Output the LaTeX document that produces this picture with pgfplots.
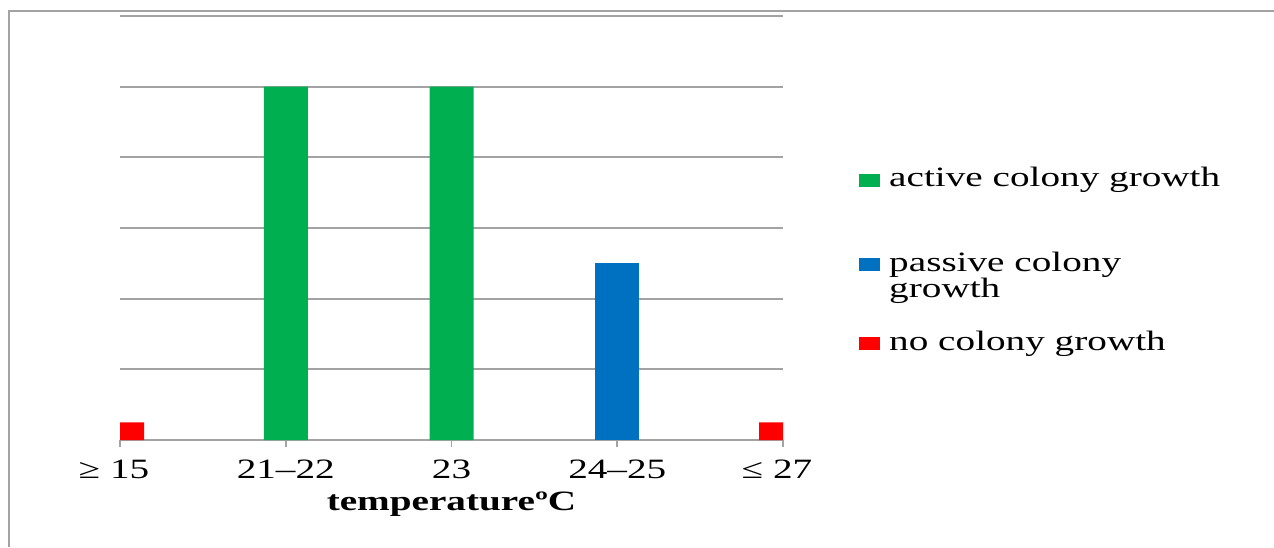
\documentclass[border=0pt]{standalone}
\usepackage{fontspec}
\setmainfont{Liberation Serif}[FakeStretch=1.4]
\usepackage{pgfplots}
\pgfplotsset{compat=1.18}
\definecolor{cgreen}{HTML}{00B050}
\definecolor{cblue}{HTML}{0070C0}
\definecolor{cred}{HTML}{FF0000}
\definecolor{cgrid}{HTML}{A3A3A3}
\newcommand{\lf}{\fontsize{21}{20}\selectfont}
\pgfplotsset{sqleg/.style={legend image code/.code={\fill[##1, draw=none] (0pt,0pt) rectangle (15.75pt,9.75pt);}}}
\begin{document}
\begin{tikzpicture}
\useasboundingbox (0pt,0pt) rectangle (955.5pt,410.25pt);
\draw[cgrid, line width=1.5pt] (6.75pt,0pt) -- (6.75pt,402pt) -- (955.5pt,402pt);
\begin{axis}[
  at={(90pt,80.25pt)}, anchor=south west,
  scale only axis, width=497.25pt, height=318pt,
  ybar, bar width=33pt,
  xmin=0, xmax=4, ymin=0, ymax=6,
  xtick={0,1,2,3,4},
  xticklabels={≥ 15\kern9pt, 21–22, 23, 24–25, ≤ 27\kern9pt},
  ytick={0,1,2,3,4,5,6}, yticklabels={},
  axis x line*=bottom, axis y line*=left,
  x axis line style={-, cgrid, line width=1.3pt},
  y axis line style={draw=none},
  ytick style={draw=none},
  xtick style={cgrid, line width=1.3pt},
  xtick align=outside, major tick length=5.25pt,
  ymajorgrids, grid style={cgrid, line width=1.3pt},
  xticklabel style={font=\lf, anchor=base, yshift=-23.25pt},
  xlabel={\bfseries temperatureºC},
  xlabel style={font=\lf, at={(axis description cs:0.5,0)}, anchor=base, yshift=-52.5pt},
  legend style={at={(rel axis cs:1.1146,0.6439)}, anchor=north west, draw=none, fill=none,
    inner sep=0pt, row sep=20.35pt, column sep=6.75pt,
    nodes={inner sep=0pt, font=\lf, text depth=, text height=},
    cells={anchor=base west, text depth=, text height=}},
]
\addplot[fill=cgreen, draw=none, bar shift=0pt, sqleg] coordinates {(1,5) (2,5)};
\addlegendentry{active colony growth\rule[-28.35pt]{0pt}{0pt}}
\addplot[fill=cblue, draw=none, bar shift=0pt, sqleg] coordinates {(3,2.5)};
\addlegendentry{\parbox[t]{250pt}{\lf passive colony\\growth}}
\addplot[fill=cred, draw=none, bar shift=0pt, bar width=36pt, sqleg] coordinates {(0,0.25) (4,0.25)};
\addlegendentry{no colony growth}
\end{axis}
\end{tikzpicture}
\end{document}
